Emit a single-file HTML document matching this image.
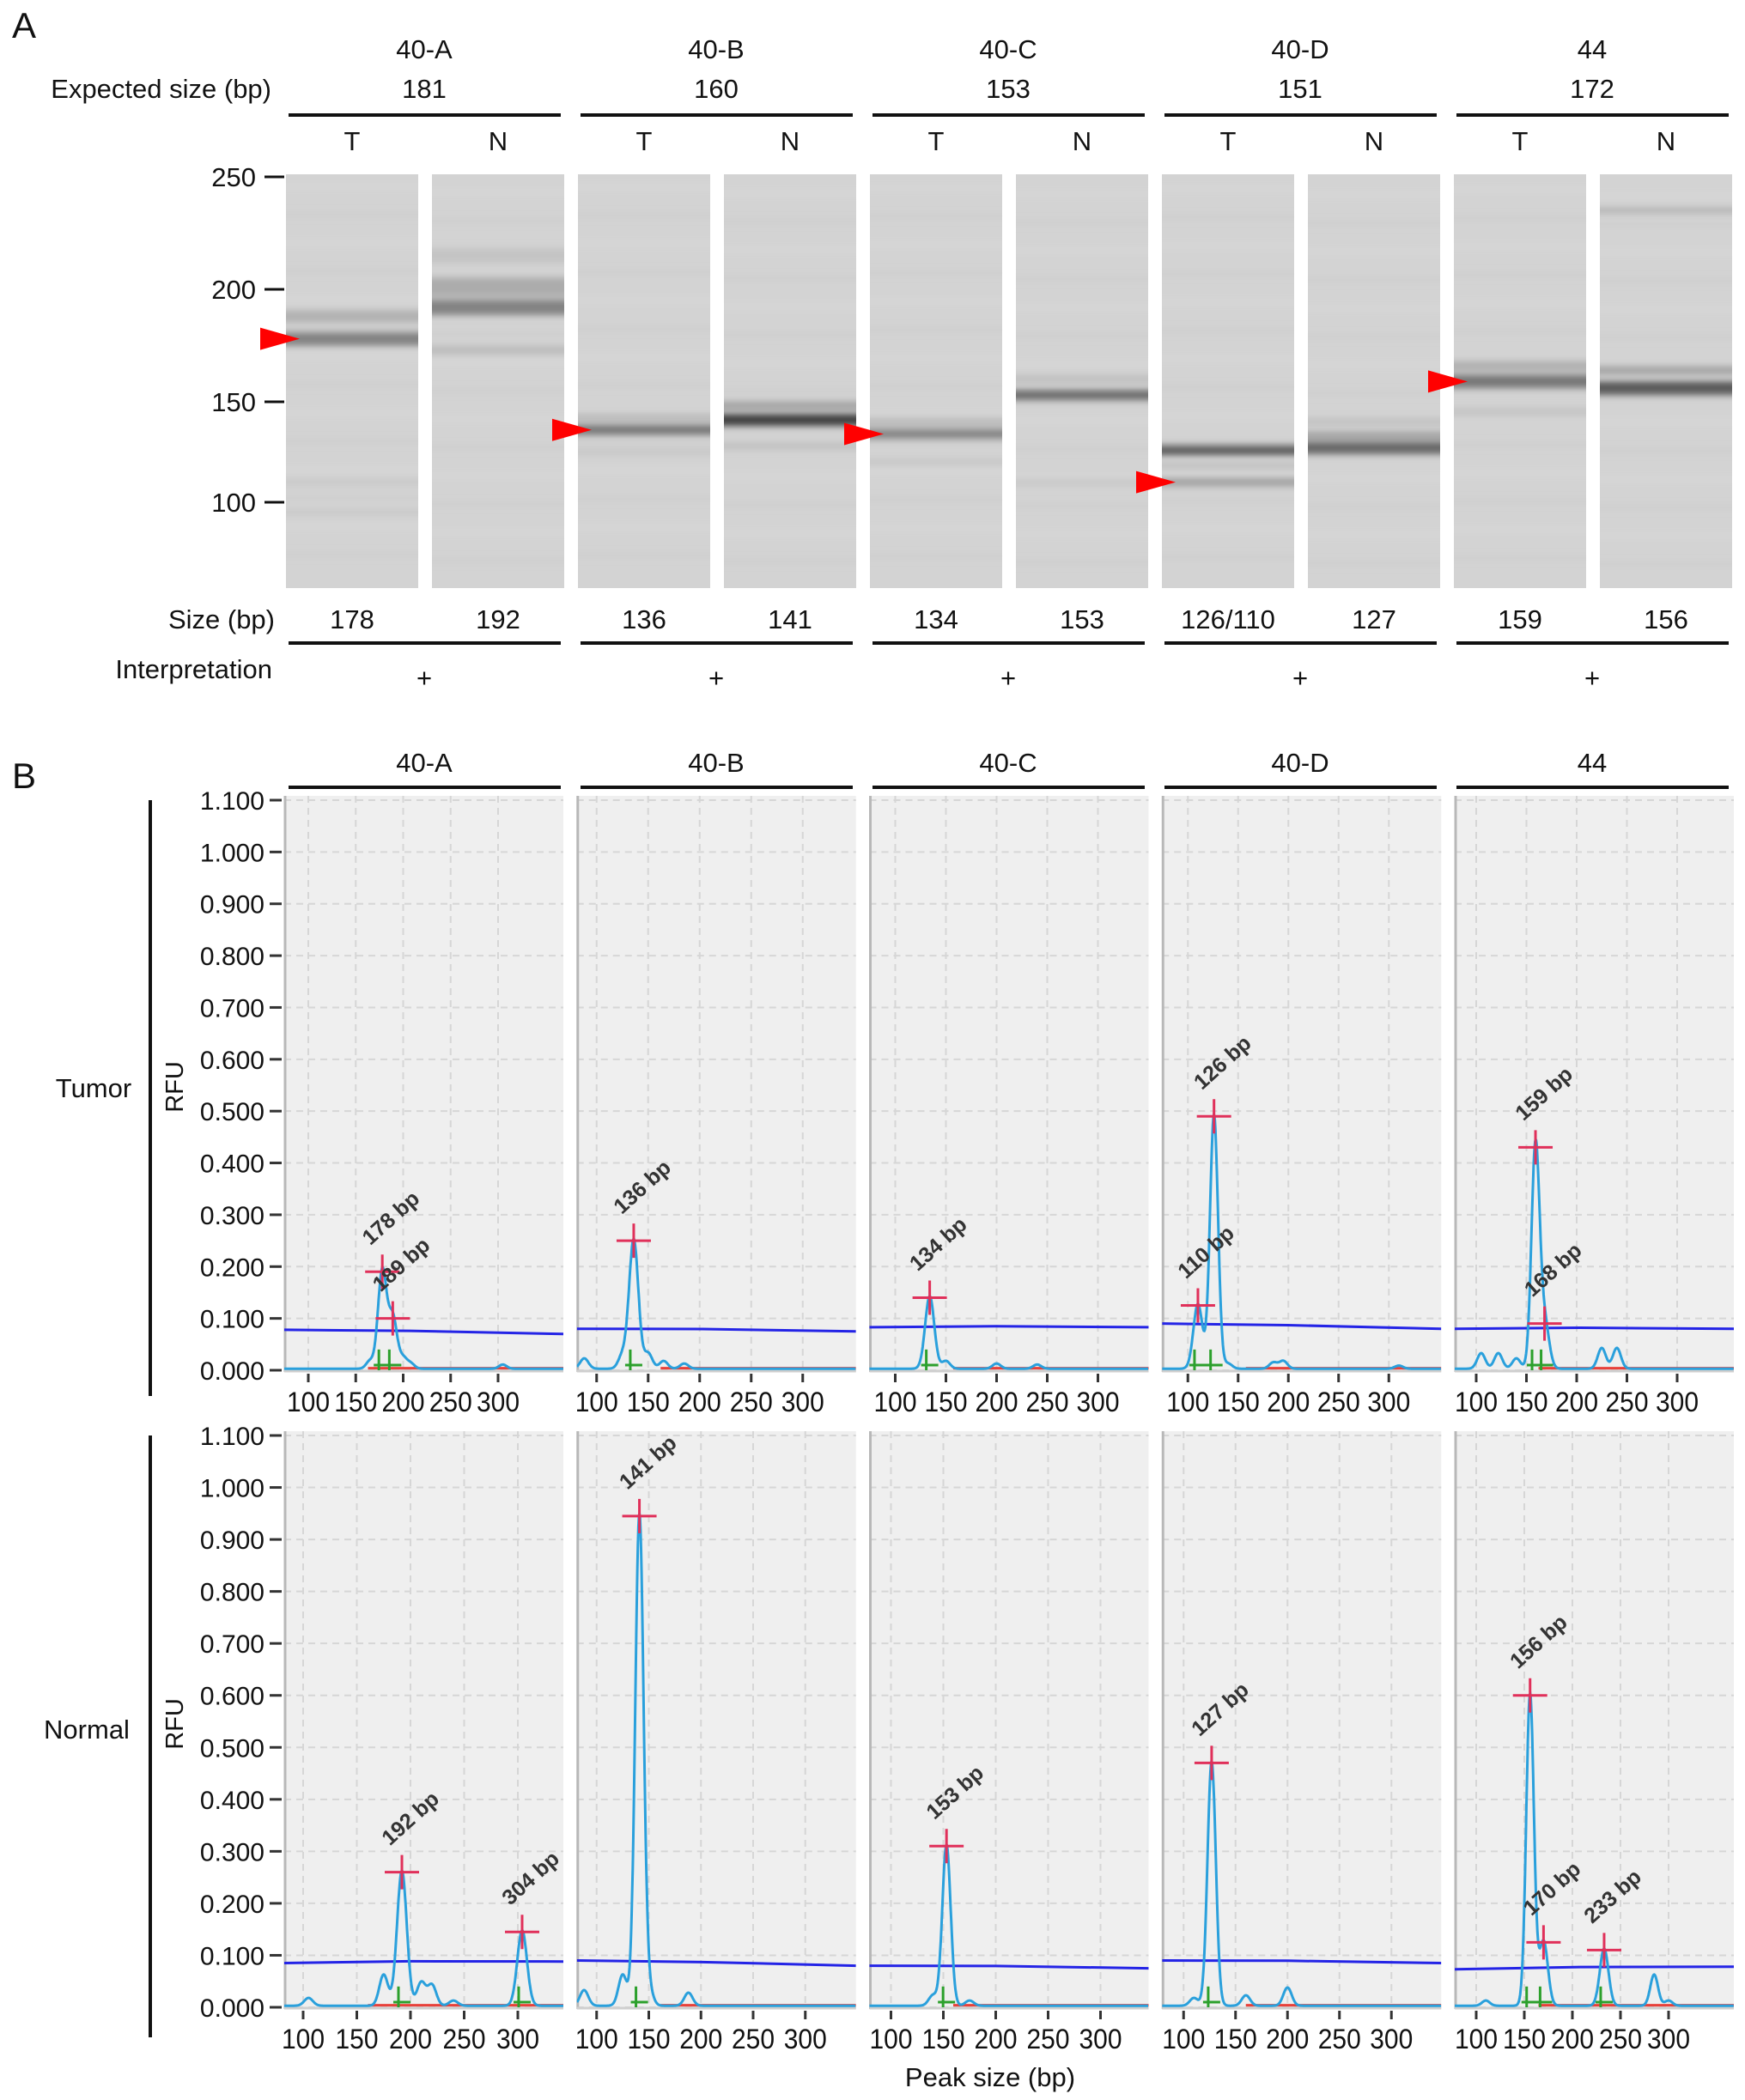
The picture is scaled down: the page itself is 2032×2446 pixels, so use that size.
<!DOCTYPE html>
<html><head><meta charset="utf-8"><style>
html,body{margin:0;padding:0;background:#fff}
svg{display:block}
text{font-family:"Liberation Sans",sans-serif;fill:#111}
</style></head><body>
<svg id="fig" width="2032" height="2446" viewBox="0 0 2032 2446" xmlns="http://www.w3.org/2000/svg"></svg>
<script>
// ---------- data ----------
const groups = ["40-A","40-B","40-C","40-D","44"];
const expectedSizes = ["181","160","153","151","172"];
const observedSizes = ["178","192","136","141","134","153","126/110","127","159","156"];
const interpretations = ["+","+","+","+","+"];
const gelTicks = [250,200,150,100];
// gel bands per lane: [bp, darkness, thickness]
const gelBands = [
 [[178,0.33,16],[188,0.14,14],[110,0.05,6],[95,0.05,6]],
 [[192,0.33,18],[201,0.16,22],[173,0.1,10],[215,0.06,18]],
 [[136,0.38,12],[142,0.1,10],[125,0.05,8]],
 [[141,0.6,14],[148,0.2,10],[128,0.08,8]],
 [[134,0.32,12],[140,0.1,10],[120,0.05,8]],
 [[153,0.42,12],[160,0.08,10],[110,0.05,8]],
 [[126,0.5,12],[110,0.2,10],[118,0.08,8]],
 [[127,0.45,14],[133,0.2,10],[140,0.08,8]],
 [[159,0.38,16],[166,0.15,12],[145,0.06,10]],
 [[156,0.5,16],[164,0.2,10],[235,0.15,6]]
];
const arrowSizes = [178,136,134,110,159];
const rfuTicks = [0,0.1,0.2,0.3,0.4,0.5,0.6,0.7,0.8,0.9,1.0,1.1];
const bpTicks = [100,150,200,250,300];
// called peaks per panel: [bp, height]
const tumorPeaks = [
 [[178,0.19],[189,0.10]],
 [[136,0.25]],
 [[134,0.14]],
 [[126,0.49],[110,0.125]],
 [[159,0.43],[168,0.09]]
];
const normalPeaks = [
 [[192,0.26],[304,0.145]],
 [[141,0.945]],
 [[153,0.31]],
 [[127,0.47]],
 [[156,0.60],[170,0.125],[233,0.11]]
];
// small un-called bumps
const tumorBumps = [
 [[165,0.015],[200,0.02],[208,0.01],[305,0.008]],
 [[88,0.02],[125,0.025],[150,0.03],[165,0.015],[185,0.01]],
 [[150,0.015],[200,0.01],[240,0.008]],
 [[140,0.01],[185,0.012],[195,0.015],[310,0.006]],
 [[105,0.03],[122,0.03],[140,0.02],[225,0.04],[240,0.04]]
];
const normalBumps = [
 [[105,0.015],[175,0.06],[210,0.045],[220,0.04],[240,0.01]],
 [[88,0.03],[125,0.06],[150,0.03],[188,0.025]],
 [[140,0.02],[175,0.01]],
 [[110,0.015],[160,0.02],[200,0.035]],
 [[110,0.01],[285,0.06],[300,0.01]]
];
const tumorThreshold = [[0.078,0.070],[0.080,0.075],[0.083,0.083],[0.090,0.080],[0.080,0.080]];
const normalThreshold = [[0.085,0.088],[0.090,0.080],[0.080,0.075],[0.090,0.085],[0.073,0.078]];
const tumorAxis = [[28,249],[23,263],[30,266],[30,264],[25,259]];
const normalAxis = [[22,272],[23,266],[25,269],[25,267],[25,249]];

// ---------- helpers ----------
const svg = document.getElementById('fig');
const NS = "http://www.w3.org/2000/svg";
function el(tag, attrs, parent){
  const e = document.createElementNS(NS, tag);
  for (const k in attrs) e.setAttribute(k, attrs[k]);
  (parent||svg).appendChild(e); return e;
}
function txt(s, x, y, size, anchor, parent, extra){
  const t = el('text', Object.assign({x:x, y:y, 'font-size':size, 'text-anchor':anchor||'middle'}, extra||{}), parent);
  t.textContent = s; return t;
}
const defs = el('defs',{});
const flt = el('filter',{id:'blurV',x:'0',y:'-50%',width:'1',height:'200%'},defs);
el('feGaussianBlur',{stdDeviation:'0 4'},flt);
// ---------- panel A ----------
const gA = el('g', {});


txt("A", 28, 44, 42, 'middle', gA);
txt("Expected size (bp)", 316, 114, 31, 'end', gA);
txt("Size (bp)", 320, 732, 31, 'end', gA);
txt("Interpretation", 317, 790, 31, 'end', gA);
function gelY(bp){
  const ys=[206,337,468,585];
  for(let i=0;i<gelTicks.length-1;i++){
    const a=gelTicks[i], b=gelTicks[i+1];
    if(bp<=a && bp>=b) return ys[i]+(a-bp)/(a-b)*(ys[i+1]-ys[i]);
  }
  if(bp>250) return 206-(bp-250)/50*131;
  return 585+(100-bp)/50*116;
}
gelTicks.forEach(v=>{
  const y=gelY(v);
  const l=el('line',{x1:308,x2:331,y1:y,y2:y,stroke:'#111','stroke-width':3},gA);
  
  
  const t=txt(String(v),298,y+11,31,'end',gA);
  
  
});
for(let g=0; g<groups.length; g++){
  const gx = 333 + 340*g;
  const cx = gx + 161;
  const h=txt(groups[g], cx, 68, 31,'middle',gA);
  
  
  txt(expectedSizes[g], cx, 114, 31,'middle',gA);
  el('line',{x1:gx+3,x2:gx+320,y1:134,y2:134,stroke:'#111','stroke-width':4},gA);
  el('line',{x1:gx+3,x2:gx+320,y1:749,y2:749,stroke:'#111','stroke-width':4},gA);
  txt(interpretations[g], cx, 800, 31,'middle',gA);
  for(let k=0;k<2;k++){
    const li = g*2+k;
    const lx = gx + 170*k;
    txt(k===0?"T":"N", lx+77, 175, 31,'middle',gA);
    const lane = el('g',{},gA);
    
    
    el('rect',{x:lx,y:203,width:154,height:482,fill:'#d3d3d3'},lane);
    const bl = el('g',{filter:'url(#blurV)'},lane);
    for(let s=0;s<14;s++){
      el('rect',{x:lx,y:215+s*33+(li*7%13),width:154,height:4,fill:(s%2?'#cdcdcd':'#d9d9d9')},bl);
    }
    gelBands[li].forEach(b=>{
      const y=gelY(b[0]); const th=b[2];
      const c=Math.round(211*(1-b[1]*1.15));
      const band=el('rect',{x:lx,y:y-th/2,width:154,height:th,fill:`rgb(${c},${c},${c})`},bl);
      
      
    });
    txt(observedSizes[li], lx+77, 732, 31,'middle',gA);
  }
  const ay = gelY(arrowSizes[g]);
  const ax = gx - 20;
  const ar=el('polygon',{points:`${ax-10},${ay-13} ${ax+36},${ay} ${ax-10},${ay+13}`,fill:'#f00'},gA);
  
  
}
// ---------- panel B ----------
const gB = el('g',{});


txt("B", 28, 918, 42,'middle',gB);
const rows=[
 {name:'Tumor', top:927, y0:1596, y11:932, peaks:tumorPeaks, bumps:tumorBumps, thr:tumorThreshold, axis:tumorAxis},
 {name:'Normal', top:1667, y0:2338, y11:1672, peaks:normalPeaks, bumps:normalBumps, thr:normalThreshold, axis:normalAxis}
];
const PW=325;
for(let g=0; g<groups.length; g++){
  const cx = 333+340*g+161;
  const h=txt(groups[g], cx, 899, 31,'middle',gB);
  
  
  el('line',{x1:cx-158,x2:cx+159,y1:917,y2:917,stroke:'#111','stroke-width':4},gB);
}
rows.forEach((r,ri)=>{
  const rl=txt(r.name, ri===0?109:101, r.y0-318+(ri===0?0:5), 31,'middle',gB);
  
  
  el('line',{x1:175,x2:175,y1:r.top+5,y2:r.y0+(ri===0?30:35),stroke:'#111','stroke-width':4},gB);
  const yl=txt("RFU",0,0,29,'middle',gB,{transform:`translate(213,${r.y0-330}) rotate(-90)`});
  
  
  const Y = v => r.y0 - v/1.1*(r.y0-r.y11);
  rfuTicks.forEach(v=>{
    el('line',{x1:314,x2:328,y1:Y(v),y2:Y(v),stroke:'#333','stroke-width':3},gB);
    const t=txt(v.toFixed(3),308,Y(v)+11,30,'end',gB,{'font-family':'DejaVu Sans'});
    
    
  });
  for(let g=0; g<groups.length; g++){
    const px = 331 + 340.75*g;
    const ax = r.axis[g];
    const ppb = (ax[1]-ax[0])/200;
    const X = bp => px + ax[0] + (bp-100)*ppb;
    const bpMin = 100 - ax[0]/ppb, bpMax = bpMin + PW/ppb;
    const pg = el('g',{},gB);
    
    
    const clipId='c'+ri+g;
    const cp=el('clipPath',{id:clipId},pg);
    el('rect',{x:px,y:r.top,width:PW,height:r.y0-r.top+2},cp);
    el('rect',{x:px,y:r.top,width:PW,height:r.y0-r.top+2,fill:'#efefef'},pg);
    rfuTicks.forEach(v=>el('line',{x1:px,x2:px+PW,y1:Y(v),y2:Y(v),stroke:'#d6d6d6','stroke-width':2,'stroke-dasharray':'8,6'},pg));
    bpTicks.forEach(b=>el('line',{x1:X(b),x2:X(b),y1:r.top,y2:r.y0,stroke:'#d6d6d6','stroke-width':2,'stroke-dasharray':'8,6'},pg));
    el('line',{x1:px+1,x2:px+1,y1:r.top,y2:r.y0+2,stroke:'#b8b8b8','stroke-width':3},pg);
    el('line',{x1:px,x2:px+PW,y1:r.y0+1,y2:r.y0+1,stroke:'#cfcfcf','stroke-width':3},pg);
    bpTicks.forEach(b=>{
      el('line',{x1:X(b),x2:X(b),y1:r.y0+4,y2:r.y0+14,stroke:'#333','stroke-width':3},pg);
      const t=txt(String(b),X(b),r.y0+48,32,'middle',pg,{textLength:50,lengthAdjust:'spacingAndGlyphs'});
      
      
    });
    const cg = el('g',{'clip-path':`url(#${clipId})`},pg);
    el('line',{x1:X(bpMin+(bpMax-bpMin)*0.3),x2:px+PW,y1:Y(0.004),y2:Y(0.004),stroke:'#e8403a','stroke-width':3},cg);
    const th=r.thr[g];
    const thr=el('path',{d:`M${px},${Y(th[0])} L${px+PW*0.45},${Y((th[0]+th[1])/2+0.002)} L${px+PW},${Y(th[1])}`,fill:'none',stroke:'#2424e6','stroke-width':3},cg);
    
    
    const pk=r.peaks[g], bm=r.bumps[g];
    let d='';
    for(let b=bpMin; b<=bpMax; b+=0.5){
      let v=0.003;
      pk.forEach(p=>{ const s=p[1]>0.3?4:4.5; v+= p[1]*Math.exp(-((b-p[0])**2)/(2*s*s)); });
      bm.forEach(p=>{ v+= p[1]*Math.exp(-((b-p[0])**2)/(2*16)); });
      d += (d?'L':'M')+X(b).toFixed(1)+','+Y(v).toFixed(1);
    }
    const tr=el('path',{d:d,fill:'none',stroke:'#2aa0dc','stroke-width':3},cg);
    
    
    pk.forEach(p=>{
      const x=X(p[0]), y=Y(p[1]);
      el('line',{x1:x-10,x2:x+10,y1:Y(0.01),y2:Y(0.01),stroke:'#2ca02c','stroke-width':3},cg);
      el('line',{x1:x-4,x2:x-4,y1:Y(0.0),y2:Y(0.04),stroke:'#2ca02c','stroke-width':3},cg);
      const m=el('path',{d:`M${x-20},${y} h40 M${x},${y-20} v40`,stroke:'#e0305a','stroke-width':3,fill:'none'},pg);
      
      
      const lb=txt(p[0]+" bp",0,0,25,'start',pg,{transform:`translate(${x-14},${y-30}) rotate(-42)`,'font-weight':'bold',style:'fill:#333'});
      
      
    });
  }
});
const xt=txt("Peak size (bp)",1153,2430,31,'middle',gB);


</script>
</body></html>
